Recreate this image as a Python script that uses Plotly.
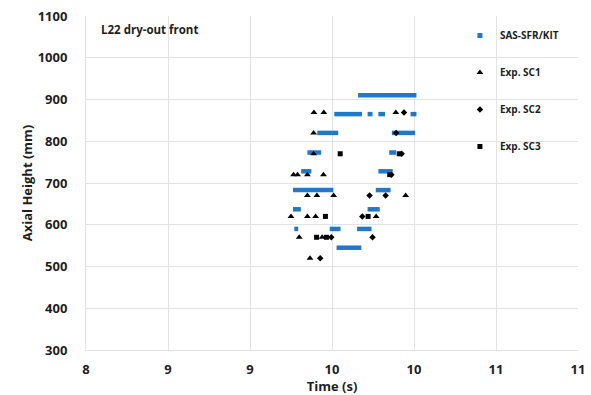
import plotly.graph_objects as go

# ---- axes ----
x_tick_vals = [8, 8.5, 9, 9.5, 10, 10.5, 11]
x_tick_labels = ["8", "9", "9", "10", "10", "11", "11"]
y_tick_vals = [300, 400, 500, 600, 700, 800, 900, 1000, 1100]

# ---- SAS-SFR/KIT dry-out front (horizontal runs of time steps) ----
sas_height = [910, 865, 865, 865, 865, 820, 820, 773, 773, 728, 728,
              683, 683, 637, 637, 590, 590, 590, 545]
sas_t_start = [9.659, 9.514, 9.717, 9.783, 9.979, 9.410, 9.865, 9.350, 9.849,
               9.312, 9.783, 9.262, 9.767, 9.262, 9.717, 9.270, 9.486, 9.653, 9.528]
sas_t_end = [10.015, 9.683, 9.747, 9.823, 10.015, 9.538, 10.007, 9.434, 9.891,
             9.374, 9.870, 9.508, 9.857, 9.310, 9.791, 9.294, 9.552, 9.741, 9.679]

# ---- experiments ----
sc1_t = [9.390, 9.450, 9.889, 9.388, 9.388, 9.266, 9.290, 9.350, 9.448,
         9.350, 9.408, 9.510, 9.949, 9.250, 9.350, 9.400, 9.769, 9.300, 9.440, 9.366]
sc1_h = [869, 869, 869, 820, 770, 720, 720, 720, 720,
         670, 670, 670, 670, 620, 620, 620, 620, 570, 570, 520]

sc2_t = [9.939, 9.891, 9.925, 9.862, 9.729, 9.827, 9.685, 9.496, 9.747, 9.428]
sc2_h = [869, 820, 770, 720, 670, 670, 620, 570, 570, 520]

sc3_t = [9.550, 9.910, 9.852, 9.460, 9.720, 9.406, 9.466]
sc3_h = [770, 770, 720, 620, 620, 570, 570]

BLUE = "#1f78c8"
FONT = "Open Sans"
TXT = "#1e1e1e"

seg_x, seg_y = [], []
for t0, t1, h in zip(sas_t_start, sas_t_end, sas_height):
    seg_x += [t0, t1, None]
    seg_y += [h, h, None]

fig = go.Figure()
fig.add_trace(go.Scatter(x=seg_x, y=seg_y, mode="lines", line=dict(color=BLUE, width=4.5),
                         showlegend=False, hoverinfo="skip"))
fig.add_trace(go.Scatter(x=[None], y=[None], mode="markers", name="SAS-SFR/KIT",
                         marker=dict(symbol="square", size=5, color=BLUE), legendgroup="a"))
fig.add_trace(go.Scatter(x=sc1_t, y=sc1_h, mode="markers", name="Exp. SC1",
                         marker=dict(symbol="triangle-up", size=6, color="black"), legendgroup="b"))
fig.add_trace(go.Scatter(x=sc2_t, y=sc2_h, mode="markers", name="Exp. SC2",
                         marker=dict(symbol="diamond", size=5, color="black"), legendgroup="c"))
fig.add_trace(go.Scatter(x=sc3_t, y=sc3_h, mode="markers", name="Exp. SC3",
                         marker=dict(symbol="square", size=5, color="black"), legendgroup="d"))

GRID = "#e3e3e3"
fig.update_layout(
    width=591, height=395,
    margin=dict(l=86, r=6, t=16, b=45),
    paper_bgcolor="white", plot_bgcolor="white",
    font=dict(family=FONT, color=TXT),
    xaxis=dict(range=[8, 11], tickvals=x_tick_vals, ticktext=x_tick_labels,
               showgrid=True, gridcolor=GRID, gridwidth=1, zeroline=False,
               showline=True, linecolor=GRID, mirror=False, ticks="",
               tickfont=dict(size=13, family=FONT, weight="bold", color=TXT),
               ticklabelstandoff=7, ticklabeloverflow="allow",
               title=dict(text="<b>Time (s)</b>", font=dict(size=13, family=FONT, color=TXT), standoff=0)),
    yaxis=dict(range=[300, 1100], tickvals=y_tick_vals,
               showgrid=True, gridcolor=GRID, gridwidth=1, zeroline=False,
               showline=True, linecolor=GRID, ticks="",
               tickfont=dict(size=13, family=FONT, weight="bold", color=TXT),
               ticklabelstandoff=15,
               title=dict(text="<b>Axial Height (mm)</b>", font=dict(size=13, family=FONT, color=TXT), standoff=2)),
    legend=dict(x=0.76, y=0.985, xanchor="left", yanchor="top", bgcolor="rgba(0,0,0,0)",
                font=dict(size=10, family=FONT, weight="bold", color=TXT),
                traceorder="grouped", tracegroupgap=18, itemwidth=30),
    shapes=[dict(type="rect", xref="paper", yref="paper", x0=0.7495, x1=0.997, y0=0.56, y1=0.997,
                 fillcolor="white", line=dict(width=0), layer="between")],
    annotations=[dict(text="<b>L22 dry-out front</b>", xref="paper", yref="paper",
                      x=0.027, y=0.96, xanchor="left", yanchor="middle", showarrow=False,
                      font=dict(size=11.5, family=FONT, color=TXT))],
)

fig.write_html("out.html")
